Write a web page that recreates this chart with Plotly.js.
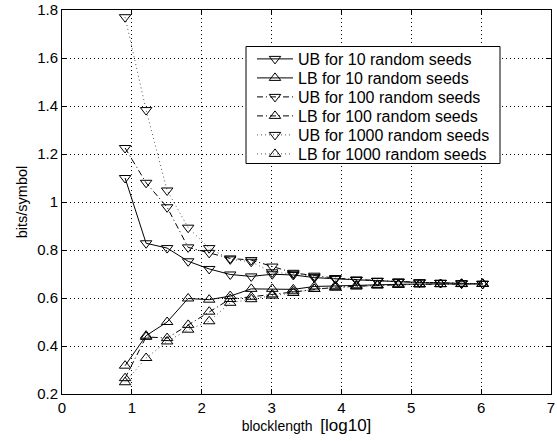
<!DOCTYPE html>
<html>
<head>
<meta charset="utf-8">
<script src="https://cdn.plot.ly/plotly-3.0.1.min.js"></script>
<style>
  html, body { margin: 0; padding: 0; background: #fff; }
  #chart { width: 557px; height: 441px; }
</style>
</head>
<body>
<div id="chart"></div>
<script>
// block length in log10 units (blocks of 2^3 ... 2^20 symbols)
const blocklengthLog10 = [0.903, 1.204, 1.505, 1.806, 2.107, 2.408, 2.709, 3.010, 3.311,
                          3.612, 3.913, 4.214, 4.515, 4.816, 5.118, 5.419, 5.720, 6.021];

// upper / lower bounds in bits per symbol
const ub10   = [1.100, 0.828, 0.808, 0.753, 0.721, 0.698, 0.690, 0.699, 0.696,
                0.685, 0.680, 0.675, 0.671, 0.668, 0.665, 0.663, 0.661, 0.659];
const lb10   = [0.318, 0.443, 0.500, 0.598, 0.593, 0.608, 0.638, 0.638, 0.636,
                0.648, 0.651, 0.653, 0.655, 0.657, 0.658, 0.658, 0.659, 0.659];
const ub100  = [1.225, 1.080, 0.978, 0.811, 0.788, 0.765, 0.758, 0.731, 0.705,
                0.693, 0.683, 0.677, 0.672, 0.668, 0.665, 0.663, 0.661, 0.659];
const lb100  = [0.266, 0.438, 0.433, 0.488, 0.543, 0.596, 0.605, 0.615, 0.628,
                0.638, 0.645, 0.649, 0.653, 0.655, 0.657, 0.658, 0.659, 0.659];
const ub1000 = [1.770, 1.383, 1.048, 0.893, 0.808, 0.761, 0.751, 0.707, 0.701,
                0.688, 0.681, 0.676, 0.671, 0.668, 0.665, 0.663, 0.661, 0.659];
const lb1000 = [0.249, 0.350, 0.419, 0.468, 0.503, 0.580, 0.595, 0.610, 0.621,
                0.638, 0.643, 0.648, 0.652, 0.655, 0.657, 0.658, 0.658, 0.659];

const seriesNames = ['UB for 10 random seeds', 'LB for 10 random seeds',
                     'UB for 100 random seeds', 'LB for 100 random seeds',
                     'UB for 1000 random seeds', 'LB for 1000 random seeds'];

const FONT = 'Liberation Sans, Arial, Helvetica, sans-serif';
const DOT = '1px,3px';
const DASHDOT = '6px,3px,1px,3px';

// plot area in pixels (used to place the legend rows in paper units)
const W = 557, H = 441;
const M = { l: 62, r: 6, t: 10, b: 47 };
const plotW = W - M.l - M.r, plotH = H - M.t - M.b;
const px2x = p => (p - M.l) / plotW;
const py2y = p => (H - M.b - p) / plotH;

const legendIds = ['legend', 'legend2', 'legend3', 'legend4', 'legend5', 'legend6'];

function series(i, y, dash, lineColor, symbol) {
  return {
    type: 'scatter',
    mode: 'lines+markers',
    name: seriesNames[i],
    legend: legendIds[i],
    x: blocklengthLog10,
    y: y,
    line: { color: lineColor, width: 1, dash: dash },
    marker: { symbol: symbol, size: 10, color: '#000',
              line: { color: '#000', width: 1 } }
  };
}

const data = [
  series(0, ub10,   'solid', '#000', 'triangle-down-open'),
  series(1, lb10,   'solid', '#000', 'triangle-up-open'),
  series(2, ub100,  DASHDOT, '#000', 'triangle-down-open'),
  series(3, lb100,  DASHDOT, '#000', 'triangle-up-open'),
  series(4, ub1000, DOT,     '#555', 'triangle-down-open'),
  series(5, lb1000, DOT,     '#555', 'triangle-up-open')
];

const axisCommon = {
  showline: true, linecolor: '#000', linewidth: 1, mirror: 'ticks',
  ticks: 'inside', ticklen: 5, tickcolor: '#000', tickwidth: 1,
  showgrid: true, gridcolor: '#000', gridwidth: 1, griddash: DOT,
  zeroline: false,
  tickfont: { family: FONT, size: 15, color: '#000' }
};

const layout = {
  width: W, height: H,
  margin: M,
  paper_bgcolor: '#fff', plot_bgcolor: '#fff',
  font: { family: FONT, color: '#000' },
  showlegend: true,
  xaxis: Object.assign({}, axisCommon, {
    range: [0, 7], dtick: 1, tick0: 0,
    title: { text: 'blocklength  <span style="font-size:17px">[log10]</span>',
             font: { family: FONT, size: 14, color: '#000' }, standoff: 4 }
  }),
  yaxis: Object.assign({}, axisCommon, {
    range: [0.2, 1.8], dtick: 0.2, tick0: 0.2,
    title: { text: 'bits/symbol', font: { family: FONT, size: 14.5, color: '#000' }, standoff: 6 }
  }),
  // legend frame
  shapes: [{
    type: 'rect', xref: 'paper', yref: 'paper', layer: 'above',
    x0: px2x(246), x1: px2x(500), y0: py2y(163.5), y1: py2y(46.5),
    fillcolor: '#fff', line: { color: '#000', width: 1 }
  }]
};

// one legend row per series, stacked inside the frame
legendIds.forEach((id, i) => {
  layout[id] = {
    x: px2x(252), y: py2y(59 + 19 * i), xanchor: 'left', yanchor: 'middle',
    bgcolor: 'rgba(0,0,0,0)', borderwidth: 0,
    font: { family: FONT, size: 16, color: '#000' },
    itemwidth: 36
  };
});

Plotly.newPlot('chart', data, layout, { displayModeBar: false, staticPlot: true });
</script>
</body>
</html>
